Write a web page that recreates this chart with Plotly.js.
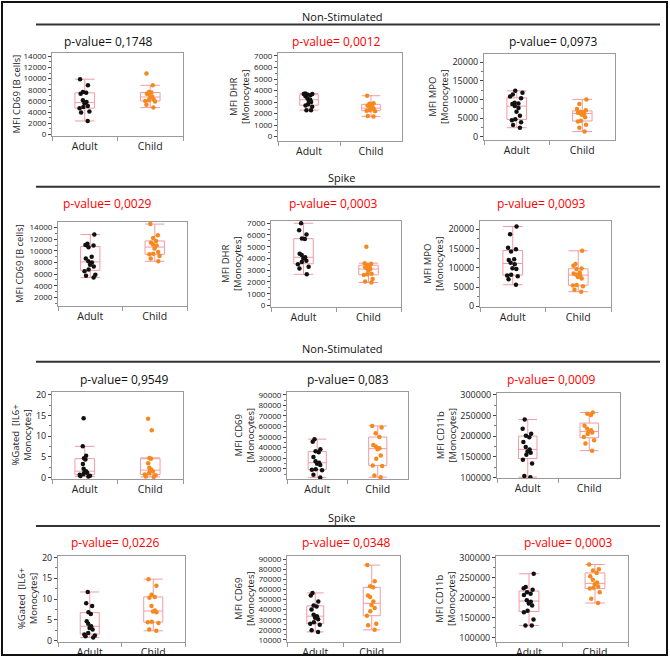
<!DOCTYPE html>
<html><head><meta charset="utf-8">
<script src="https://cdn.plot.ly/plotly-3.0.1.min.js"></script>
<style>html,body{margin:0;padding:0;background:#fff}#chart{width:670px;height:658px}</style>
</head><body><div id="chart"></div>
<script>
const groups = ['Adult', 'Child'];
const sectionTitles = ['Non-Stimulated', 'Spike', 'Non-Stimulated', 'Spike'];
const pValueLabels = ['p-value= 0,1748', 'p-value= 0,0012', 'p-value= 0,0973',
  'p-value= 0,0029', 'p-value= 0,0003', 'p-value= 0,0093',
  'p-value= 0,9549', 'p-value= 0,083', 'p-value= 0,0009',
  'p-value= 0,0226', 'p-value= 0,0348', 'p-value= 0,0003'];
const pValueSignificant = [false, true, false, true, true, true, false, false, true, true, true, true];
const yAxisLabels = ['MFI CD69 [B cells]', 'MFI DHR<br>[Monocytes]', 'MFI MPO<br>[Monocytes]',
  'MFI CD69 [B cells]', 'MFI DHR<br>[Monocytes]', 'MFI MPO<br>[Monocytes]',
  '%Gated  [IL6+<br>Monocytes]', 'MFI CD69<br>[Monocytes]', 'MFI CD11b<br>[Monocytes]',
  '%Gated  [IL6+<br>Monocytes]', 'MFI CD69<br>[Monocytes]', 'MFI CD11b<br>[Monocytes]'];

// Non-stimulated
const nsCd69BAdult = [9900, 8800, 7600, 7450, 7300, 6100, 5800, 5600, 5100, 4900, 4700, 4100, 3900, 2400];
const nsCd69BChild = [10900, 8800, 7600, 7500, 7300, 7300, 6800, 6600, 6300, 6100, 6000, 5900, 5300, 4800];
const nsDhrAdult = [3750, 3700, 3700, 3650, 3600, 3500, 3300, 3200, 3100, 3000, 2800, 2700, 2600, 2300, 2300];
const nsDhrChild = [3550, 2900, 2850, 2800, 2700, 2600, 2500, 2450, 2400, 2300, 2250, 2200, 1800, 1750];
const nsMpoAdult = [12300, 11800, 11300, 10800, 10300, 9100, 8900, 8800, 8200, 7700, 6700, 5600, 4700, 4400, 3900, 3100, 2400];
const nsMpoChild = [10000, 8800, 7400, 7100, 6700, 6500, 6400, 6300, 6100, 5900, 5200, 4300, 4100, 3200, 2400, 1400];
// Spike
const spCd69BAdult = [12800, 11200, 11000, 10900, 10600, 9000, 8700, 8200, 8000, 7600, 7300, 6800, 6500, 5900, 5700, 5400];
const spCd69BChild = [14600, 12700, 12200, 11700, 11400, 11100, 10900, 10400, 9800, 9500, 9400, 9100, 8700, 8200];
const spDhrAdult = [7000, 6400, 6050, 5700, 5650, 4400, 4300, 4100, 4000, 3800, 3700, 3500, 3300, 3150, 2650];
const spDhrChild = [5000, 3600, 3550, 3450, 3350, 3250, 3200, 3100, 2950, 2700, 2650, 2600, 2250, 2050, 1950];
const spMpoAdult = [20700, 18700, 15200, 14800, 14200, 12200, 12000, 11300, 10900, 9900, 9700, 8200, 8000, 7800, 7000, 5600];
const spMpoChild = [14400, 11000, 10500, 9800, 9700, 8800, 8500, 8200, 8000, 7600, 7200, 5500, 5400, 5200, 4300, 3800];
// Non-stimulated (monocytes)
const nsIl6Adult = [14.3, 7.5, 5.2, 4.6, 4.3, 3.2, 2.1, 1.5, 1.3, 1.1, 0.8, 0.6, 0.4, 0.3, 0.2];
const nsIl6Child = [14.2, 11.4, 4.7, 4.5, 3.4, 2.3, 1.9, 1.6, 1.4, 1.0, 0.7, 0.5, 0.2, 0.1];
const nsCd69MAdult = [48000, 45500, 38500, 36500, 35500, 31000, 27000, 25700, 24800, 23500, 19500, 19000, 18500, 14300, 11800];
const nsCd69MChild = [60500, 59000, 53500, 50000, 42500, 41000, 39500, 38500, 32500, 29500, 23000, 22500, 13500, 12000];
const nsCd11bAdult = [240000, 218000, 206000, 201000, 197000, 186000, 174000, 168000, 163000, 160000, 155000, 143000, 134000, 104000, 101000];
const nsCd11bChild = [257000, 254000, 251000, 225000, 218000, 214000, 211000, 209000, 205000, 198000, 190000, 182000, 165000];
// Spike (monocytes)
const spIl6Adult = [11.7, 9.0, 8.3, 6.8, 6.4, 4.6, 4.0, 3.4, 3.0, 2.6, 1.8, 1.4, 1.2, 1.0, 0.7];
const spIl6Child = [14.8, 13.2, 11.0, 10.5, 10.3, 8.3, 7.2, 7.0, 6.8, 4.5, 4.4, 4.2, 2.6, 2.3];
const spCd69MAdult = [56500, 54000, 48000, 44000, 43000, 40000, 35000, 33500, 32000, 30500, 27500, 26000, 25000, 19500, 18000];
const spCd69MChild = [84000, 68000, 63000, 62000, 54000, 52500, 48000, 44500, 41500, 38500, 34000, 26000, 24500, 20000];
const spCd11bAdult = [260000, 227000, 224000, 220000, 214000, 210000, 207000, 194000, 190000, 186000, 181000, 168000, 164000, 146000, 131000, 131000];
const spCd11bChild = [283000, 271000, 268000, 262000, 254000, 245000, 238000, 234000, 228000, 225000, 223000, 214000, 198000, 187000];

const panelData = [
  [nsCd69BAdult, nsCd69BChild], [nsDhrAdult, nsDhrChild], [nsMpoAdult, nsMpoChild],
  [spCd69BAdult, spCd69BChild], [spDhrAdult, spDhrChild], [spMpoAdult, spMpoChild],
  [nsIl6Adult, nsIl6Child], [nsCd69MAdult, nsCd69MChild], [nsCd11bAdult, nsCd11bChild],
  [spIl6Adult, spIl6Child], [spCd69MAdult, spCd69MChild], [spCd11bAdult, spCd11bChild]
];

// layout geometry (pixels)
const W = 670, H = 658;
const geo = [
  {x0:52, x1:183, y0:53, y1:136, yr:[-300,14600], dt:2000, px:109, py:42, tx:16, fs:8},
  {x0:278, x1:402, y0:53, y1:141, yr:[-380,7260], dt:1000, px:336, py:42, tx:239, fs:8},
  {x0:484, x1:615, y0:54, y1:140, yr:[-900,22200], dt:5000, px:553, py:42, tx:438, fs:9},
  {x0:58, x1:187, y0:222, y1:306, yr:[510,14960], dt:2000, px:107, py:203, tx:20, fs:8},
  {x0:271, x1:401, y0:221, y1:307, yr:[-130,7190], dt:1000, px:333, py:203, tx:232, fs:8},
  {x0:480, x1:611, y0:221, y1:307, yr:[-180,22130], dt:5000, px:541, py:203, tx:434, fs:9},
  {x0:52, x1:183, y0:392, y1:479, yr:[-0.4,20.65], dt:5, px:124, py:379, tx:21, fs:9},
  {x0:287, x1:408, y0:392, y1:479, yr:[10300,92600], dt:10000, px:348, py:379, tx:244, fs:8},
  {x0:497, x1:620, y0:393, y1:478, yr:[99000,304000], dt:50000, px:551, py:379, tx:446, fs:9},
  {x0:58, x1:185, y0:556, y1:642, yr:[-0.4,20.4], dt:5, px:115, py:542, tx:27, fs:9},
  {x0:287, x1:400, y0:556, y1:642, yr:[8000,93000], dt:10000, px:346, py:542, tx:244, fs:8},
  {x0:496, x1:628, y0:556, y1:642, yr:[90000,304200], dt:50000, px:568, py:542, tx:445, fs:9}
];
const percentPanels = [6, 9];
const sectionGeo = [{ty:16, ly:24.5}, {ty:177, ly:186.7}, {ty:348, ly:361.7}, {ty:517, ly:526}];

const FONT = 'Open Sans, Noto Sans, sans-serif';
const boxLine = '#f29aa3';
const groupColors = ['#111111', '#f5891f'];
const fx = p => p / W;
const fy = p => 1 - p / H;

const traces = [];
const layout = {
  width: W, height: H, margin: {l:0, r:0, t:0, b:0},
  paper_bgcolor: '#fff', plot_bgcolor: '#fff', showlegend: false,
  font: {family: FONT, size: 10, color: '#222'},
  annotations: [], shapes: []
};

geo.forEach((g, i) => {
  const sfx = i === 0 ? '' : String(i + 1);
  groups.forEach((grp, k) => {
    traces.push({
      type: 'box', y: panelData[i][k], name: grp,
      xaxis: 'x' + sfx, yaxis: 'y' + sfx,
      boxpoints: 'all', jitter: 0.7, pointpos: 0, width: 0.3, whiskerwidth: 1,
      line: {color: boxLine, width: 1}, fillcolor: 'rgba(0,0,0,0)',
      marker: {color: groupColors[k], size: 4.5, line: {width: 0}},
      hoverinfo: 'y'
    });
  });
  layout['xaxis' + sfx] = {
    domain: [fx(g.x0), fx(g.x1)], anchor: 'y' + sfx, type: 'category',
    categoryorder: 'array', categoryarray: groups, range: [-0.5, 1.5],
    showline: true, mirror: true, linecolor: '#9a9a9a', linewidth: 1,
    ticks: 'outside', tickson: 'boundaries', ticklen: 4, tickcolor: '#9a9a9a',
    showgrid: false, zeroline: false, fixedrange: true,
    tickfont: {family: FONT, size: 10.5, color: '#222'}
  };
  layout['yaxis' + sfx] = {
    domain: [fy(g.y1), fy(g.y0)], anchor: 'x' + sfx, range: g.yr,
    dtick: g.dt, tick0: 0, showline: true, mirror: true, linecolor: '#9a9a9a', linewidth: 1,
    tickformat: percentPanels.includes(i) ? '' : 'd', separatethousands: false,
    ticks: 'outside', ticklen: 3, tickcolor: '#444', showgrid: false, zeroline: false,
    minor: {dtick: g.dt / 2, ticks: 'outside', ticklen: 2, tickcolor: '#777', showgrid: false},
    tickfont: {family: FONT, size: g.fs, color: '#222'}, fixedrange: true
  };
  layout.annotations.push({
    xref: 'paper', yref: 'paper', x: fx(g.px), y: fy(g.py), xanchor: 'center', yanchor: 'middle',
    text: pValueLabels[i], showarrow: false,
    font: {family: FONT, size: 12, color: pValueSignificant[i] ? '#ff0000' : '#111'}
  });
  layout.annotations.push({
    xref: 'paper', yref: 'paper', x: fx(g.tx), y: fy((g.y0 + g.y1) / 2), xanchor: 'center', yanchor: 'middle',
    text: yAxisLabels[i], showarrow: false, textangle: -90,
    font: {family: FONT, size: 9.5, color: '#222'}
  });
});

sectionGeo.forEach((s, j) => {
  layout.annotations.push({
    xref: 'paper', yref: 'paper', x: fx(342), y: fy(s.ty), xanchor: 'center', yanchor: 'middle',
    text: sectionTitles[j], showarrow: false, font: {family: FONT, size: 11, color: '#111'}
  });
  layout.shapes.push({
    type: 'line', xref: 'paper', yref: 'paper', x0: fx(36), x1: fx(660), y0: fy(s.ly), y1: fy(s.ly),
    line: {color: '#333', width: 2}
  });
});
layout.shapes.push({
  type: 'rect', xref: 'paper', yref: 'paper', x0: fx(2), x1: fx(667), y0: fy(655), y1: fy(2),
  line: {color: '#111', width: 2}
});

Plotly.newPlot('chart', traces, layout, {staticPlot: true, displayModeBar: false});
</script>
</body></html>
